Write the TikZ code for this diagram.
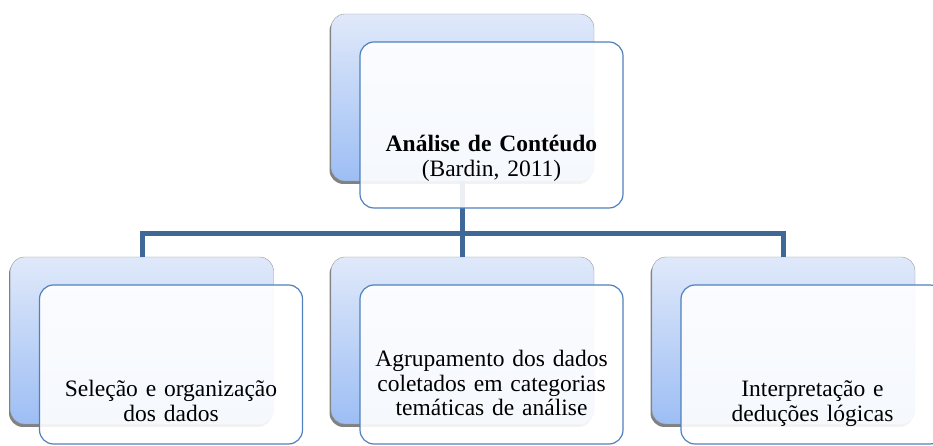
\documentclass[tikz,border=0pt]{standalone}
\usepackage{fontspec}
\setmainfont{Liberation Serif}
\usetikzlibrary{positioning, shadows}
\definecolor{backtop}{HTML}{E0E9FA}
\definecolor{backbottom}{HTML}{9DBEF4}
\definecolor{frameblue}{HTML}{4F81BD}
\definecolor{linkblue}{HTML}{3F6797}

\begin{document}
\begin{tikzpicture}[x=1pt, y=1pt,
        back/.style={rectangle, rounded corners=14pt, draw=gray!80, top color=backtop, bottom color=backbottom, minimum width=263pt, minimum height=167pt, drop shadow={shadow xshift=-1.5pt, shadow yshift=-3pt, opacity=0.7, fill=black!70}},
        front/.style={rectangle, rounded corners=14pt, draw=frameblue, line width=1.2pt, fill=white, fill opacity=0.9, minimum width=263pt, minimum height=166pt},
        boxtext/.style={align=center, text width=250pt, font=\fontsize{23.5}{24.5}\selectfont, anchor=base},
        link/.style={draw=linkblue, line width=5pt}
        ]
        \useasboundingbox (0,0) rectangle (933,446);

        % Back cards
        \node (back0) [back] at (462.5,348.5) {};
        \node (back1) [back] at (142,105.5) {};
        \node (back2) [back] at (462.5,105.5) {};
        \node (back3) [back] at (783.5,105.5) {};

        % Connectors
        \coordinate (hub) at (462.5,212);
        \draw [link] (back1.north) |- (hub) -| (back3.north);
        \draw [link] (back0.south) -- (back2.north);

        % Front cards
        \node (front0) [front] at (491.5,321) {};
        \node (front1) [front, minimum height=159pt] at (171,81.5) {};
        \node (front2) [front, minimum height=159pt] at (491.5,81.5) {};
        \node (front3) [front, minimum height=159pt] at (812.5,81.5) {};

        % Texts
        \node (txt0) [boxtext] at (491.5,294) {\textbf{Análise de Contéudo}\\(Bardin, 2011)};
        \node (txt1) [boxtext] at (171,49) {Seleção e organização\\dos dados};
        \node (txt2) [boxtext] at (491.5,79) {Agrupamento dos dados\\coletados em categorias\\temáticas de análise};
        \node (txt3) [boxtext] at (812.5,49) {Interpretação e\\deduções lógicas};
    \end{tikzpicture}
\end{document}
